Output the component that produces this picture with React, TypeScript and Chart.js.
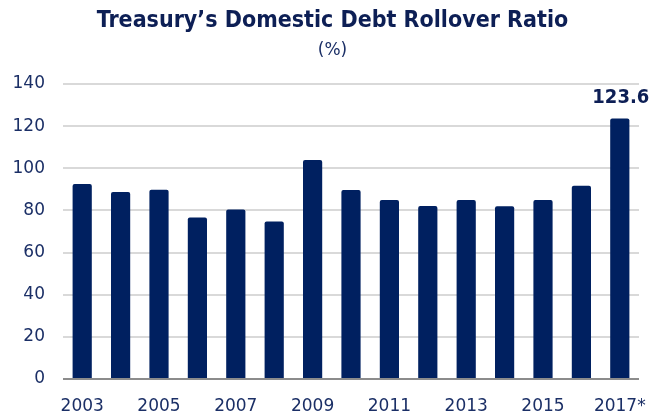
import React, { useEffect, useRef } from "react";
import { Chart, registerables } from "chart.js";

Chart.register(...registerables);

const years = ["2003", "2004", "2005", "2006", "2007", "2008", "2009", "2010", "2011", "2012", "2013", "2014", "2015", "2016", "2017*"];
const rolloverRatio = [92.5, 88.7, 89.8, 76.6, 80.4, 74.7, 103.9, 89.7, 85.0, 82.1, 85.0, 82.0, 85.0, 91.7, 123.6];
const yTicks = [0, 20, 40, 60, 80, 100, 120, 140];
const titleText = "Treasury\u2019s Domestic Debt Rollover Ratio";
const subtitleText = "(%)";
const highlightIndex = 14;

const NAVY = "#002060";
const TEXT = "#1b2f66";

export default function App() {
  const ref = useRef<HTMLCanvasElement | null>(null);
  useEffect(() => {
    document.body.style.margin = "0";
    const canvas = ref.current!;
    const overlay = {
      id: "overlay",
      afterDatasetsDraw(chart: any) {
        const { ctx, chartArea, scales } = chart;
        const y0 = scales.y.getPixelForValue(0);
        ctx.save();
        ctx.strokeStyle = "#8c8c8c";
        ctx.lineWidth = 2;
        ctx.beginPath();
        ctx.moveTo(chartArea.left, y0);
        ctx.lineTo(chartArea.right, y0);
        ctx.stroke();
        const meta = chart.getDatasetMeta(0);
        const bar = meta.data[highlightIndex];
        ctx.fillStyle = "#0d1f55";
        ctx.font = "bold 20px 'DejaVu Sans Condensed', 'DejaVu Sans'";
        ctx.textAlign = "center";
        ctx.textBaseline = "middle";
        ctx.fillText(String(rolloverRatio[highlightIndex]), bar.x + 1, bar.y - 21);
        ctx.restore();
      },
      afterDraw(chart: any) {
        const { ctx, width } = chart;
        ctx.save();
        ctx.fillStyle = "#0d1f55";
        ctx.textAlign = "center";
        ctx.textBaseline = "middle";
        ctx.font = "bold 23px 'DejaVu Sans Condensed', 'DejaVu Sans'";
        ctx.fillText(titleText, width / 2, 21);
        ctx.font = "17px 'DejaVu Sans'";
        ctx.fillStyle = TEXT;
        ctx.fillText(subtitleText, width / 2, 51);
        ctx.restore();
      },
    };
    const chart = new Chart(canvas, {
      type: "bar",
      data: {
        labels: years,
        datasets: [
          {
            data: rolloverRatio,
            backgroundColor: NAVY,
            borderRadius: { topLeft: 2, topRight: 2, bottomLeft: 0, bottomRight: 0 },
            borderSkipped: "bottom",
            categoryPercentage: 1,
            barPercentage: 0.5,
          },
        ],
      },
      options: {
        responsive: false,
        animation: false,
        events: [],
        layout: { padding: { top: 84, right: 26, left: 0, bottom: 0 } },
        plugins: { legend: { display: false }, tooltip: { enabled: false }, title: { display: false } },
        scales: {
          x: {
            grid: { display: false },
            border: { display: false },
            ticks: {
              color: TEXT,
              font: { family: "'DejaVu Sans'", size: 17 },
              autoSkip: false,
              maxRotation: 0,
              padding: 9,
              callback: (_v: any, i: number) => (i % 2 === 0 ? years[i] : ""),
            },
            afterFit: (s: any) => {
              s.height = 35;
            },
          },
          y: {
            min: 0,
            max: 140,
            afterBuildTicks: (s: any) => {
              s.ticks = yTicks.map((v) => ({ value: v }));
            },
            grid: { color: "#d9d9d9", lineWidth: 2, drawTicks: false },
            border: { display: false },
            ticks: {
              color: TEXT,
              font: { family: "'DejaVu Sans'", size: 17 },
              padding: 18,
            },
            afterFit: (s: any) => {
              s.width = 63;
            },
          },
        },
      },
      plugins: [overlay],
    });
    return () => chart.destroy();
  }, []);
  return <canvas ref={ref} width={665} height={414} style={{ display: "block" }} />;
}
